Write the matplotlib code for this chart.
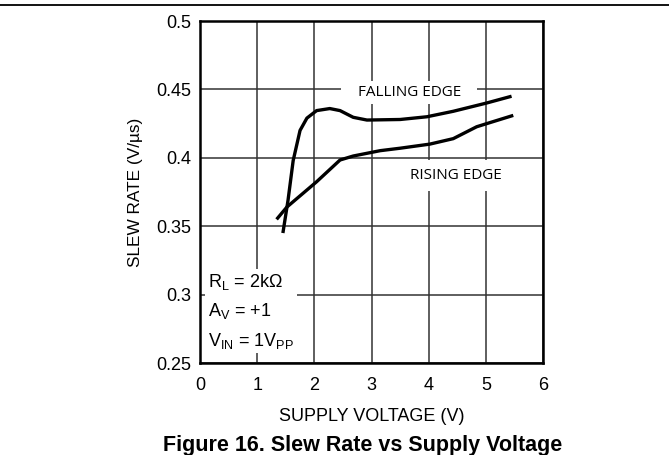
import matplotlib.pyplot as plt

# values
falling_v = [1.45, 1.54, 1.63, 1.75, 1.87, 2.04, 2.27, 2.45, 2.68, 2.92, 3.5, 3.97, 4.43, 5.01, 5.45]
falling_sr = [0.345, 0.369, 0.398, 0.420, 0.429, 0.4345, 0.436, 0.4345, 0.4296, 0.4276, 0.428, 0.430, 0.434, 0.440, 0.445]

rising_v = [1.34, 1.52, 2.04, 2.45, 2.68, 3.15, 3.5, 4.02, 4.43, 4.84, 5.07, 5.48]
rising_sr = [0.355, 0.364, 0.3825, 0.3984, 0.4013, 0.4052, 0.407, 0.410, 0.414, 0.4227, 0.4257, 0.431]

x_ticks = [0, 1, 2, 3, 4, 5, 6]
y_ticks = [0.25, 0.3, 0.35, 0.4, 0.45, 0.5]
y_labels = ['0.25', '0.3', '0.35', '0.4', '0.45', '0.5']

plt.rcParams['font.family'] = ['Liberation Sans', 'DejaVu Sans']

fig = plt.figure(figsize=(6.69, 4.55), dpi=100)
ax = fig.add_axes([200 / 669, 1 - 363 / 455, 343 / 669, 342 / 455])

ax.plot(falling_v, falling_sr, color='black', lw=2.4, solid_capstyle='butt', zorder=5)
ax.plot(rising_v, rising_sr, color='black', lw=2.4, solid_capstyle='butt', zorder=5)

ax.set_xlim(0, 6)
ax.set_ylim(0.25, 0.5)
ax.set_xticks(x_ticks)
ax.set_yticks(y_ticks)
ax.set_yticklabels(y_labels)
ax.tick_params(length=0, labelsize=13)
ax.tick_params(axis='y', pad=6)
ax.tick_params(axis='x', pad=10)
ax.grid(True, color='#333333', lw=1.1)
ax.set_axisbelow(True)
for s in ax.spines.values():
    s.set_linewidth(1.8)

ax.set_xlabel('SUPPLY VOLTAGE (V)', fontsize=13, labelpad=10)
ax.set_ylabel('SLEW RATE (V/\u00b5s)', fontsize=12.4, labelpad=10)

ax.text(3.66, 0.448, '   FALLING EDGE   ', family=['Open Sans', 'DejaVu Sans'], fontsize=11,
        ha='center', va='center', bbox=dict(facecolor='white', edgecolor='none', pad=3))
ax.text(4.48, 0.387, 'RISING EDGE', family=['Open Sans', 'DejaVu Sans'], fontsize=11,
        ha='center', va='center', bbox=dict(facecolor='white', edgecolor='none', pad=6))

ax.text(0.14, 0.259,
        '$\\mathregular{R_L}$ = 2k$\\mathregular{\\Omega}$\n'
        '$\\mathregular{A_V}$ = +1\n'
        '$\\mathregular{V_{IN}}$ = 1$\\mathregular{V_{PP}}$',
        fontsize=13, ha='left', va='bottom', linespacing=1.62,
        bbox=dict(facecolor='white', edgecolor='none', pad=2))

fig.add_artist(plt.Line2D([0, 1], [1 - 5 / 455, 1 - 5 / 455], color='black', lw=1.3))
fig.text(363 / 669, 1 - 445 / 455, 'Figure 16. Slew Rate vs Supply Voltage',
         fontsize=15.5, fontweight='bold', ha='center', va='center')

fig.savefig('out.png', dpi=100)
